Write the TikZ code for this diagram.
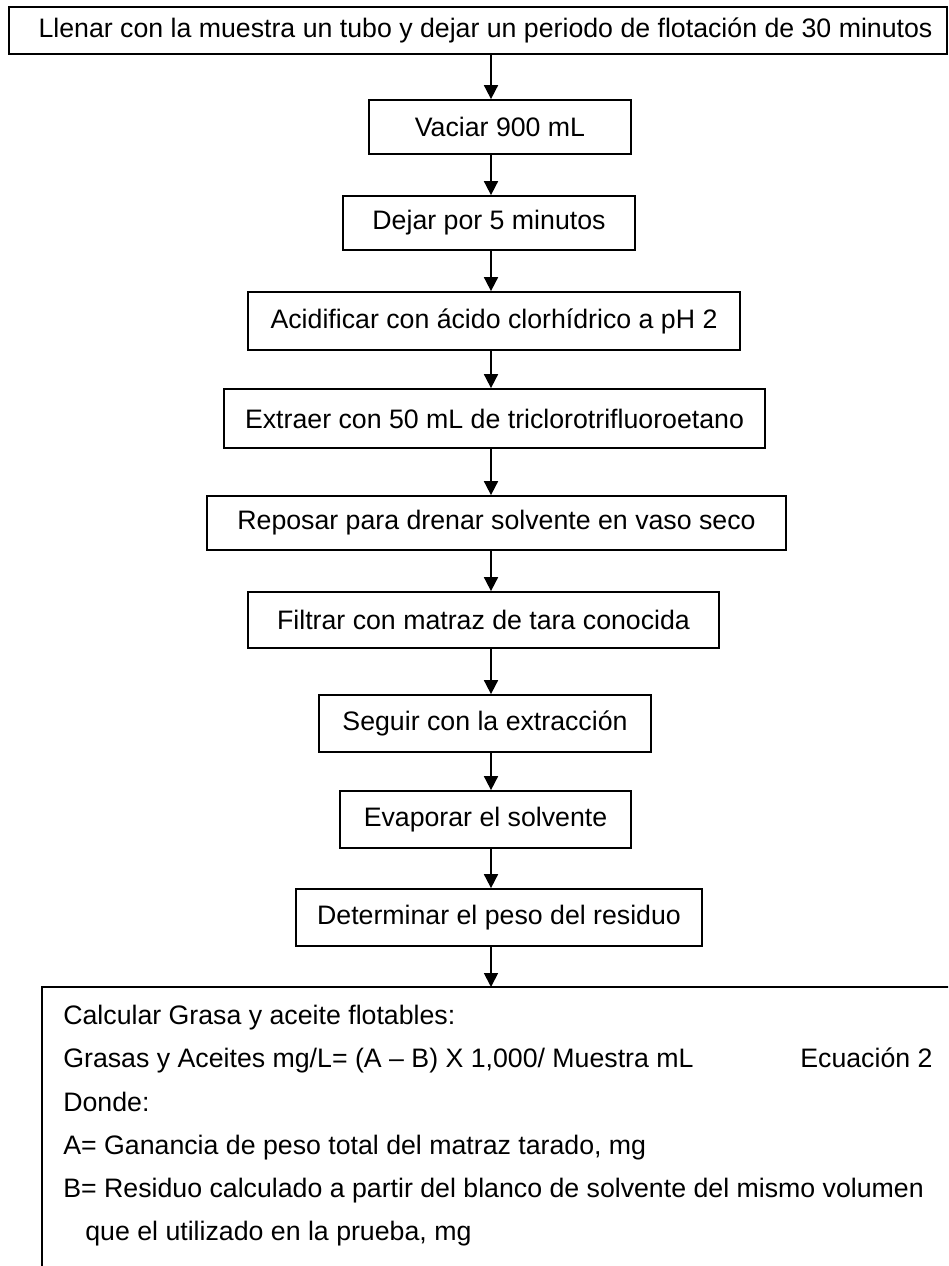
\documentclass[tikz,border=0pt]{standalone}
\usepackage{fontspec}
\setmainfont{Liberation Sans}
\usetikzlibrary{arrows.meta}
\tikzset{
  paso/.style={draw, line width=1pt, font=\fontsize{15.2pt}{18pt}\selectfont, inner sep=0pt, minimum height=1.12cm},
  flecha/.style={line width=1pt, -{Triangle[length=0.28cm, width=0.28cm]}},
  marco/.style={line width=1pt},
  calctxt/.style={anchor=north west, inner sep=0pt, align=left, font=\fontsize{15.2pt}{24.6pt}\selectfont}
}

\begin{document}
\begin{tikzpicture}[x=0.2mm, y=-0.2mm]
  \useasboundingbox (0,0) rectangle (948,1266);
  \clip (0,0) rectangle (948,1266);
  % pasos del procedimiento
  \node[paso, minimum width=18.76cm, minimum height=0.94cm] (llenar) at (478,30.5) {\hspace*{0.3cm}Llenar con la muestra un tubo y dejar un periodo de flotación de 30 minutos};
  \node[paso, minimum width=5.24cm, minimum height=1.08cm] (vaciar) at (500,127) {Vaciar 900 mL};
  \node[paso, minimum width=5.84cm, minimum height=1.08cm] (dejar) at (489,223) {Dejar por 5 minutos};
  \node[paso, minimum width=9.84cm, minimum height=1.16cm] (acidificar) at (494,321) {Acidificar con ácido clorhídrico a pH 2};
  \node[paso, minimum width=10.82cm, minimum height=1.18cm] (extraer) at (494.5,418.5) {Extraer con 50 mL de triclorotrifluoroetano};
  \node[paso, minimum width=11.58cm, minimum height=1.08cm] (reposar) at (496.5,523) {Reposar para drenar solvente en vaso seco};
  \node[paso, minimum width=9.42cm] (filtrar) at (483.5,620) {Filtrar con matraz de tara conocida};
  \node[paso, minimum width=6.64cm, minimum height=1.14cm] (seguir) at (485,723.5) {Seguir con la extracción};
  \node[paso, minimum width=5.82cm, minimum height=1.14cm] (evaporar) at (485.5,819.5) {Evaporar el solvente};
  \node[paso, minimum width=8.12cm, minimum height=1.14cm] (determinar) at (499,917.5) {Determinar el peso del residuo};
  % flechas
  \coordinate (eje) at (491,0);
  \coordinate (calctop) at (491,987);
  \foreach \a/\b in {llenar/vaciar, vaciar/dejar, dejar/acidificar, acidificar/extraer, extraer/reposar, reposar/filtrar, filtrar/seguir, seguir/evaporar, evaporar/determinar}
    \draw[flecha] (\a.south -| eje) -- (\b.north -| eje);
  \draw[flecha] (determinar.south -| eje) -- (calctop);
  % calculo final
  \draw[marco] (42,1300) -- (42,987) -- (1000,987);
  \node[calctxt] (calc) at (63,1005) {Calcular Grasa y aceite flotables:\\
    \makebox[14.74cm][l]{Grasas y Aceites mg/L= (A -- B) X 1,000/ Muestra mL}Ecuación 2\\
    Donde:\\
    A= Ganancia de peso total del matraz tarado, mg\\
    B= Residuo calculado a partir del blanco de solvente del mismo volumen\\
    \hspace*{0.44cm}que el utilizado en la prueba, mg};
\end{tikzpicture}
\end{document}
